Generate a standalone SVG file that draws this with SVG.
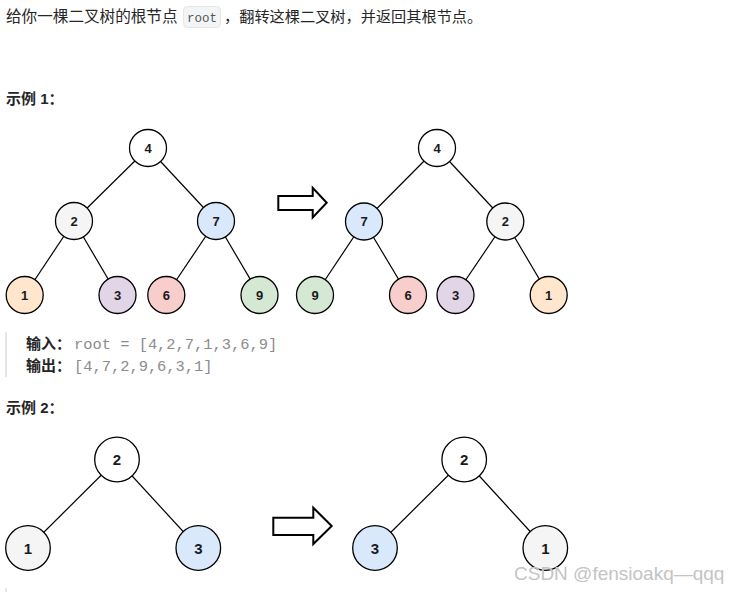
<svg xmlns="http://www.w3.org/2000/svg" width="740" height="592" viewBox="0 0 740 592">
<style>
.t{font-family:"Liberation Sans","Noto Sans CJK SC",sans-serif;font-size:15px;fill:#262626}
.h{font-weight:bold;fill:#262626}
.mono{font-family:"Liberation Mono","DejaVu Sans Mono",monospace;font-size:15.4px;fill:#8c8c8c}
.n circle{stroke:#000;stroke-width:1.3}
.n text{font-family:"Liberation Sans",Arial,sans-serif;font-weight:bold;font-size:13px;fill:#1a1a1a;text-anchor:middle}
.n2 text{font-size:15px}
.e line{stroke:#000;stroke-width:1.2}
.arr{fill:#fff;stroke:#000;stroke-width:2;stroke-linejoin:miter}
.wm{font-family:"Liberation Sans",Arial,sans-serif;font-size:19px;fill:#c4c4c4}
</style>
<rect width="740" height="592" fill="#fff"/>
<g id="intro">
<text class="t" x="6" y="22" style="font-size:15.6px">给你一棵二叉树的根节点</text>
<rect x="183.5" y="6.5" width="37" height="21" rx="4" fill="#f3f4f5" stroke="#e6e6e6"/>
<text x="187" y="22" style="font-family:'Liberation Mono',monospace;font-size:12.5px;fill:#555">root</text>
<text class="t" x="224" y="22" style="font-size:15.2px">，翻转这棵二叉树，并返回其根节点。</text>
</g>
<text class="t h" x="6" y="104">示例 1：</text>
<g id="connectors">
<g class="e">
<line x1="148" y1="148" x2="74" y2="221"/><line x1="148" y1="148" x2="216" y2="221"/>
<line x1="74" y1="221" x2="24.7" y2="295"/><line x1="74" y1="221" x2="117.5" y2="295"/>
<line x1="216" y1="221" x2="166.3" y2="295"/><line x1="216" y1="221" x2="259.5" y2="295"/>
<line x1="437" y1="148" x2="364" y2="221.5"/><line x1="437" y1="148" x2="505.3" y2="221.5"/>
<line x1="364" y1="221.5" x2="315" y2="295"/><line x1="364" y1="221.5" x2="408" y2="295"/>
<line x1="505.3" y1="221.5" x2="455.5" y2="295"/><line x1="505.3" y1="221.5" x2="548.7" y2="295"/>
<line x1="117" y1="459.5" x2="28" y2="548"/><line x1="117" y1="459.5" x2="198.3" y2="548"/>
<line x1="464.2" y1="459.5" x2="375" y2="548"/><line x1="464.2" y1="459.5" x2="545.3" y2="548"/>
</g>
<polygon id="arrow1" class="arr" points="278.3,196 312.7,196 312.7,187.8 326.7,202.8 312.7,217.5 312.7,210 278.3,210"/>
<polygon id="arrow2" class="arr" points="273.3,517.7 313.3,517.7 313.3,507.7 331.7,526 313.3,544 313.3,535 273.3,535"/>
</g>
<g class="n">
<g id="a4"><circle cx="148" cy="148" r="18.5" fill="#fff"/><text x="148" y="152.5">4</text></g>
<g id="a2"><circle cx="74" cy="221" r="18.5" fill="#f5f5f5"/><text x="74" y="225.5">2</text></g>
<g id="a7"><circle cx="216" cy="221" r="18.5" fill="#dae8fc"/><text x="216" y="225.5">7</text></g>
<g id="a1"><circle cx="24.7" cy="295" r="18.5" fill="#ffe6cc"/><text x="24.7" y="299.5">1</text></g>
<g id="a3"><circle cx="117.5" cy="295" r="18.5" fill="#e1d5e7"/><text x="117.5" y="299.5">3</text></g>
<g id="a6"><circle cx="166.3" cy="295" r="18.5" fill="#f8cecc"/><text x="166.3" y="299.5">6</text></g>
<g id="a9"><circle cx="259.5" cy="295" r="18.5" fill="#d5e8d4"/><text x="259.5" y="299.5">9</text></g>
<g id="b4"><circle cx="437" cy="148" r="18.5" fill="#fff"/><text x="437" y="152.5">4</text></g>
<g id="b7"><circle cx="364" cy="221.5" r="18.5" fill="#dae8fc"/><text x="364" y="226">7</text></g>
<g id="b2"><circle cx="505.3" cy="221.5" r="18.5" fill="#f5f5f5"/><text x="505.3" y="226">2</text></g>
<g id="b9"><circle cx="315" cy="295" r="18.5" fill="#d5e8d4"/><text x="315" y="299.5">9</text></g>
<g id="b6"><circle cx="408" cy="295" r="18.5" fill="#f8cecc"/><text x="408" y="299.5">6</text></g>
<g id="b3"><circle cx="455.5" cy="295" r="18.5" fill="#e1d5e7"/><text x="455.5" y="299.5">3</text></g>
<g id="b1"><circle cx="548.7" cy="295" r="18.5" fill="#ffe6cc"/><text x="548.7" y="299.5">1</text></g>
</g>
<g id="io1">
<rect x="5" y="332" width="2" height="45" fill="#e6e6e6"/>
<text class="t h" x="26" y="349">输入：</text>
<text class="mono" x="74" y="349">root = [4,2,7,1,3,6,9]</text>
<text class="t h" x="26" y="371">输出：</text>
<text class="mono" x="74" y="371">[4,7,2,9,6,3,1]</text>
</g>
<text class="t h" x="6" y="413">示例 2：</text>
<g class="n n2">
<g id="c2"><circle cx="117" cy="459.5" r="22.3" fill="#fff"/><text x="117" y="465">2</text></g>
<g id="c1"><circle cx="28" cy="548" r="22.3" fill="#f5f5f5"/><text x="28" y="553.5">1</text></g>
<g id="c3"><circle cx="198.3" cy="548" r="22.3" fill="#dae8fc"/><text x="198.3" y="553.5">3</text></g>
<g id="d2"><circle cx="464.2" cy="459.5" r="22.3" fill="#fff"/><text x="464.2" y="465">2</text></g>
<g id="d3"><circle cx="375" cy="548" r="22.3" fill="#dae8fc"/><text x="375" y="553.5">3</text></g>
<g id="d1"><circle cx="545.3" cy="548" r="22.3" fill="#f5f5f5"/><text x="545.3" y="553.5">1</text></g>
</g>
<rect x="5" y="588" width="2" height="4" fill="#e6e6e6"/>
<text class="wm" x="514" y="580">CSDN @fensioakq—qqq</text>
</svg>
